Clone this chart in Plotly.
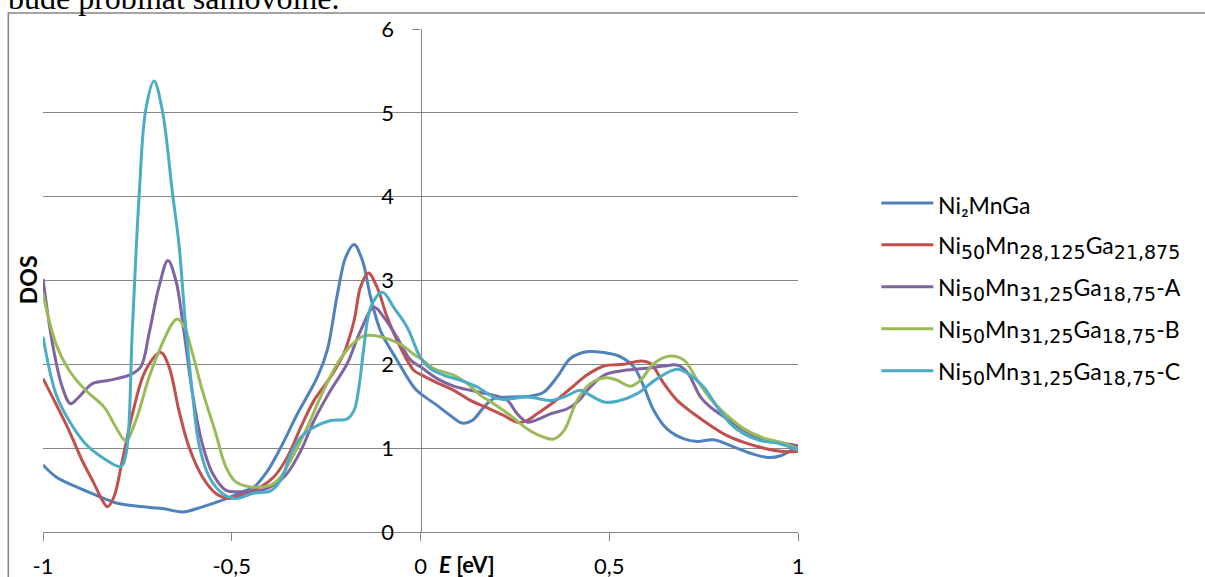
import plotly.graph_objects as go

# ---------------- data ----------------
e_ni2mnga = [-1, -0.966, -0.913, -0.86, -0.8, -0.754, -0.684, -0.63, -0.578, -0.525, -0.472, -0.44,
             -0.405, -0.37, -0.326, -0.273, -0.247, -0.22, -0.198, -0.176, -0.154, -0.132, -0.106,
             -0.062, -0.018, 0.0, 0.044, 0.079, 0.11, 0.137, 0.168, 0.194, 0.238, 0.291, 0.327, 0.362,
             0.397, 0.44, 0.486, 0.53, 0.565, 0.592, 0.618, 0.653, 0.698, 0.733, 0.777, 0.821, 0.874,
             0.918, 0.954, 1.0]
dos_ni2mnga = [0.80, 0.66, 0.54, 0.44, 0.34, 0.31, 0.28, 0.24, 0.30, 0.38, 0.48, 0.54, 0.73, 1.01,
               1.41, 1.85, 2.17, 2.84, 3.28, 3.43, 3.24, 2.80, 2.40, 2.05, 1.73, 1.65, 1.51, 1.39,
               1.30, 1.33, 1.49, 1.59, 1.61, 1.62, 1.67, 1.85, 2.07, 2.15, 2.14, 2.09, 1.97, 1.73,
               1.45, 1.23, 1.11, 1.08, 1.10, 1.03, 0.94, 0.89, 0.91, 1.03]

e_red = [-1, -0.966, -0.931, -0.896, -0.865, -0.843, -0.829, -0.812, -0.79, -0.763, -0.728, -0.688,
         -0.666, -0.64, -0.613, -0.578, -0.542, -0.507, -0.476, -0.423, -0.388, -0.353, -0.317,
         -0.282, -0.238, -0.203, -0.176, -0.159, -0.138, -0.115, -0.088, -0.053, -0.018, 0.0, 0.044,
         0.088, 0.132, 0.177, 0.22, 0.256, 0.278, 0.309, 0.353, 0.397, 0.44, 0.486, 0.539, 0.583,
         0.609, 0.645, 0.68, 0.724, 0.768, 0.812, 0.857, 0.91, 0.962, 1.0]
dos_red = [1.83, 1.53, 1.21, 0.85, 0.58, 0.38, 0.30, 0.42, 0.85, 1.41, 1.93, 2.14, 1.97, 1.45, 1.01,
           0.66, 0.46, 0.40, 0.44, 0.54, 0.66, 0.89, 1.25, 1.57, 1.85, 2.13, 2.52, 2.92, 3.09, 2.92,
           2.56, 2.20, 1.93, 1.88, 1.78, 1.69, 1.57, 1.48, 1.39, 1.31, 1.32, 1.41, 1.55, 1.71, 1.87,
           1.98, 2.00, 2.04, 2.01, 1.77, 1.57, 1.41, 1.27, 1.15, 1.07, 1.00, 0.96, 0.96]

e_a = [-1, -0.975, -0.949, -0.927, -0.905, -0.869, -0.825, -0.772, -0.741, -0.719, -0.693, -0.669,
       -0.648, -0.626, -0.604, -0.578, -0.551, -0.516, -0.472, -0.44, -0.388, -0.353, -0.317, -0.282,
       -0.238, -0.194, -0.159, -0.123, -0.097, -0.062, -0.026, 0.0, 0.044, 0.088, 0.132, 0.185, 0.23,
       0.256, 0.283, 0.309, 0.344, 0.389, 0.415, 0.45, 0.486, 0.53, 0.592, 0.645, 0.68, 0.706, 0.742,
       0.768, 0.812, 0.857, 0.90, 0.945, 1.0]
dos_a = [3.02, 2.25, 1.73, 1.53, 1.61, 1.77, 1.81, 1.87, 1.97, 2.37, 2.92, 3.24, 3.00, 2.37, 1.65,
         1.05, 0.70, 0.50, 0.48, 0.48, 0.56, 0.70, 0.97, 1.33, 1.69, 2.01, 2.40, 2.68, 2.56, 2.32,
         2.05, 1.97, 1.83, 1.74, 1.69, 1.64, 1.57, 1.41, 1.31, 1.34, 1.41, 1.47, 1.55, 1.73, 1.87,
         1.92, 1.95, 1.98, 1.99, 1.91, 1.61, 1.49, 1.35, 1.21, 1.11, 1.07, 1.03]

e_b = [-1, -0.966, -0.931, -0.887, -0.838, -0.807, -0.781, -0.754, -0.719, -0.684, -0.657, -0.644,
       -0.626, -0.604, -0.578, -0.542, -0.516, -0.49, -0.454, -0.397, -0.37, -0.335, -0.3, -0.265,
       -0.22, -0.185, -0.15, -0.106, -0.053, -0.018, 0.0, 0.035, 0.088, 0.124, 0.159, 0.194, 0.238,
       0.283, 0.327, 0.353, 0.38, 0.415, 0.45, 0.494, 0.521, 0.556, 0.583, 0.618, 0.662, 0.698,
       0.733, 0.768, 0.812, 0.857, 0.91, 0.954, 1.0]
dos_b = [2.84, 2.25, 1.93, 1.69, 1.49, 1.25, 1.09, 1.33, 1.85, 2.25, 2.49, 2.54, 2.45, 2.13, 1.69,
         1.17, 0.78, 0.60, 0.54, 0.56, 0.66, 0.93, 1.25, 1.61, 2.01, 2.22, 2.34, 2.33, 2.24, 2.12,
         2.07, 1.95, 1.87, 1.77, 1.63, 1.53, 1.39, 1.23, 1.13, 1.11, 1.21, 1.57, 1.77, 1.84, 1.81,
         1.74, 1.81, 2.01, 2.10, 2.05, 1.81, 1.59, 1.39, 1.23, 1.12, 1.07, 0.99]

e_c = [-1, -0.966, -0.931, -0.887, -0.843, -0.794, -0.78, -0.763, -0.745, -0.728, -0.706, -0.684,
       -0.657, -0.64, -0.622, -0.604, -0.587, -0.56, -0.525, -0.49, -0.44, -0.397, -0.37, -0.344,
       -0.317, -0.282, -0.238, -0.194, -0.176, -0.163, -0.15, -0.132, -0.101, -0.071, -0.035, 0.0,
       0.026, 0.062, 0.106, 0.15, 0.194, 0.22, 0.283, 0.344, 0.38, 0.424, 0.45, 0.486, 0.521, 0.574,
       0.627, 0.68, 0.715, 0.75, 0.786, 0.821, 0.857, 0.90, 0.945, 1.0]
dos_c = [2.33, 1.65, 1.33, 1.05, 0.89, 0.78, 0.93, 2.45, 4.04, 5.03, 5.38, 5.03, 4.04, 3.44, 2.45,
         1.65, 1.05, 0.66, 0.46, 0.40, 0.465, 0.49, 0.62, 0.93, 1.13, 1.25, 1.33, 1.35, 1.45, 1.73,
         2.2, 2.68, 2.86, 2.68, 2.44, 2.08, 1.95, 1.87, 1.81, 1.73, 1.61, 1.58, 1.61, 1.57, 1.61,
         1.69, 1.63, 1.55, 1.56, 1.65, 1.83, 1.94, 1.87, 1.73, 1.49, 1.29, 1.17, 1.09, 1.06, 0.98]

# legend labels: (element, subscript) pairs, suffix
label_parts = [
    ([("Ni", "2"), ("Mn", ""), ("Ga", "")], ""),
    ([("Ni", "50"), ("Mn", "28,125"), ("Ga", "21,875")], ""),
    ([("Ni", "50"), ("Mn", "31,25"), ("Ga", "18,75")], "-A"),
    ([("Ni", "50"), ("Mn", "31,25"), ("Ga", "18,75")], "-B"),
    ([("Ni", "50"), ("Mn", "31,25"), ("Ga", "18,75")], "-C"),
]
series_x = [e_ni2mnga, e_red, e_a, e_b, e_c]
series_y = [dos_ni2mnga, dos_red, dos_a, dos_b, dos_c]
colors = ["#4F81BD", "#C0504D", "#8064A2", "#9BBB59", "#4BACC6"]

x_tickvals = [-1, -0.5, 0, 0.5, 1]
x_ticktext = ["-1", "-0,5", "0", "0,5", "1"]
y_tickvals = [0, 1, 2, 3, 4, 5, 6]
y_ticktext = ["0", "1", "2", "3", "4", "5", "6"]

# ---------------- figure ----------------
W, H = 1205, 577
L, R, T, B = 42.7, W - 797.7, 29.0, H - 532.3
pw, ph = W - L - R, H - T - B


def px_x(p):
    return (p - L) / pw


def px_y(p):
    return (H - B - p) / ph


FONT = "Lato, 'Open Sans', sans-serif"
GRAY = "#868686"
SUB_STYLE = "font-family:'DejaVu Sans';font-size:19px"


def label_html(parts, suffix):
    out = ""
    for el, sub in parts:
        out += el
        if sub == "2" and len(parts[0][1]) == 1:
            out += "\u2082"
        elif sub:
            out += '<sub><span style="%s">%s</span></sub>' % (SUB_STYLE, sub)
    return out + suffix


series_names = [label_html(p, s) for p, s in label_parts]

fig = go.Figure()
for i, (xs, ys, nm, c) in enumerate(zip(series_x, series_y, series_names, colors)):
    fig.add_trace(go.Scatter(
        x=xs, y=ys, name=nm, mode="lines",
        line=dict(color=c, width=3, shape="spline", smoothing=1.0),
        showlegend=False,
    ))

fig.update_layout(
    template="none",
    width=W, height=H,
    margin=dict(l=L, r=R, t=T, b=B, pad=0, autoexpand=False),
    paper_bgcolor="white", plot_bgcolor="white",
    font=dict(family=FONT, color="black", size=20),
    showlegend=False,
    xaxis=dict(
        range=[-1, 1], domain=[0, 1], automargin=False,
        tickmode="array", tickvals=x_tickvals, ticktext=x_ticktext,
        showgrid=False, zeroline=False,
        showline=True, linecolor=GRAY, linewidth=1.3,
        ticks="outside", ticklen=8, tickwidth=1.3, tickcolor=GRAY,
        tickfont=dict(family=FONT, size=22, color="black"),
        ticklabelstandoff=6,
    ),
    yaxis=dict(
        range=[0, 6], domain=[0, 1], automargin=False,
        anchor="free", position=0.5,
        tickmode="array", tickvals=y_tickvals, ticktext=y_ticktext,
        showgrid=True, gridcolor=GRAY, gridwidth=1.3,
        zeroline=False,
        showline=True, linecolor=GRAY, linewidth=1.3,
        ticks="outside", ticklen=8, tickwidth=1.3, tickcolor=GRAY,
        tickfont=dict(family=FONT, size=22, color="black"),
        ticklabelstandoff=14,
    ),
)

# legend drawn by hand (longer line samples as in the reference)
for i, (nm, c) in enumerate(zip(series_names, colors)):
    yy = 203 + 42 * i
    fig.add_shape(
        type="line", xref="paper", yref="paper",
        x0=px_x(881), x1=px_x(933), y0=px_y(yy), y1=px_y(yy),
        line=dict(color=c, width=3),
    )
    fig.add_annotation(
        text=nm, showarrow=False, xref="paper", yref="paper",
        x=px_x(936), y=px_y(yy + 2), xanchor="left", yanchor="middle",
        font=dict(family=FONT, size=23, color="black"),
    )

# axis titles
fig.add_annotation(
    text="<b>DOS</b>", textangle=-90, showarrow=False,
    xref="paper", yref="paper", x=px_x(28), y=px_y(280),
    xanchor="center", yanchor="middle",
    font=dict(family=FONT, size=23, color="black"),
)
fig.add_annotation(
    text="<b><i>E</i> [eV]</b>", showarrow=False,
    xref="paper", yref="paper", x=px_x(437), y=px_y(565),
    xanchor="left", yanchor="middle",
    font=dict(family=FONT, size=22, color="black"),
)

# document text above the chart (cut off at the top)
fig.add_annotation(
    text="bude probíhat samovolně.", showarrow=False,
    xref="paper", yref="paper", x=px_x(6), y=px_y(-2),
    xanchor="left", yanchor="middle",
    font=dict(family="'Liberation Serif', 'Times New Roman', serif", size=32, color="black"),
)

# outer chart border (extends beyond the visible page on the right and bottom)
fig.add_shape(
    type="rect", xref="paper", yref="paper",
    x0=px_x(8), x1=px_x(1260), y0=px_y(640), y1=px_y(13),
    line=dict(color=GRAY, width=1.5), fillcolor="rgba(0,0,0,0)", layer="below",
)

fig.write_html(
    "out.html",
    config={"displayModeBar": False},
    post_script=(
        "document.body.style.margin='0px';"
        "document.body.style.padding='0px';"
        "document.documentElement.style.overflow='hidden';"
    ),
)
